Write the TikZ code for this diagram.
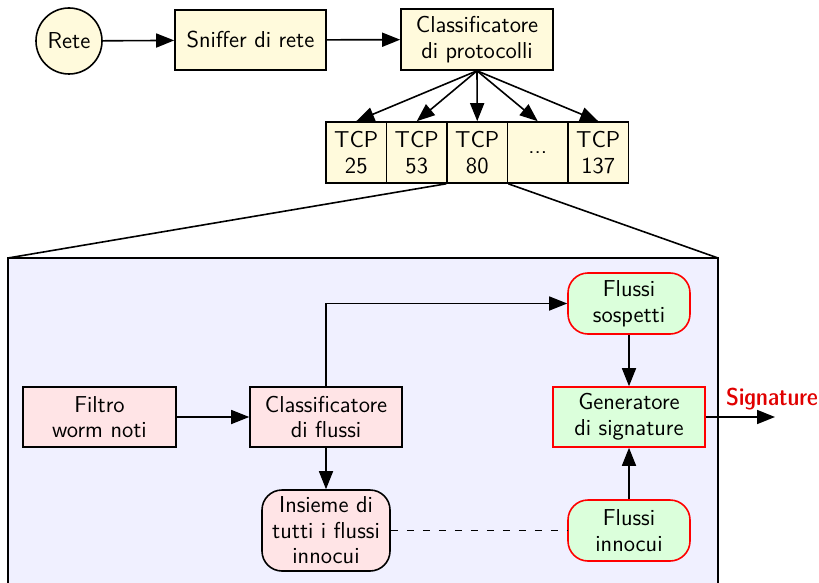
\documentclass[tikz,border=0pt]{standalone}
\usetikzlibrary{arrows.meta}
\definecolor{ylw}{HTML}{FFFADC}
\definecolor{pnk}{HTML}{FFE4E6}
\definecolor{grn}{HTML}{DBFFDB}
\definecolor{lav}{HTML}{F0F0FF}
\definecolor{sigred}{HTML}{E00000}
\begin{document}
\begin{tikzpicture}[x=0.5pt,y=-0.5pt,
  font=\sffamily\fontsize{11.5}{12.8}\selectfont,
  >={Triangle[length=9pt,width=7pt]},
  every path/.style={line width=0.8pt},
  base/.style={draw, align=center, inner sep=0pt, line width=0.8pt},
  ybox/.style={base, fill=ylw, minimum width=75.5pt, minimum height=30pt},
  tcpbox/.style={base, fill=ylw, minimum width=30.25pt, minimum height=30.5pt},
  pbox/.style={base, fill=pnk, minimum width=76pt, minimum height=30pt},
  gbox/.style={base, fill=grn, draw=red, minimum width=76pt, minimum height=30pt},
  groundbox/.style={base, fill=grn, draw=red, rounded corners=10pt, minimum width=61pt, minimum height=30.5pt},
  link/.style={->, line width=0.8pt}
]
\useasboundingbox (0,0) rectangle (819,583);
% big box
\path[draw, fill=lav] (8,258) rectangle (718,620);
\node[base, circle, fill=ylw, minimum size=33pt] (rete) at (69,41) {Rete};
\node[ybox] (sniffer) at (250.5,40) {Sniffer di rete};
\node[ybox, minimum width=76pt, minimum height=30.5pt] (cproto) at (477,39.5) {Classificatore\\di protocolli};
\node[tcpbox] (t25) at (356.25,152.5) {TCP\\25};
\node[tcpbox] (t53) at (416.75,152.5) {TCP\\53};
\node[tcpbox] (t80) at (477.25,152.5) {TCP\\80};
\node[tcpbox] (tdots) at (537.75,152.5) {...};
\node[tcpbox] (t137) at (598.25,152.5) {TCP\\137};
\draw[link] (rete) -- (sniffer);
\draw[link] (sniffer) -- (cproto);
\foreach \t in {t25,t53,t80,tdots,t137} \draw[link] (cproto.south) -- (\t.north);
\draw (t80.south west) -- (8,258);
\draw (t80.south east) -- (718,258);
% inner
\node[pbox, minimum width=76.5pt] (filtro) at (99.5,417) {Filtro\\worm noti};
\node[pbox] (cflussi) at (326,417) {Classificatore\\di flussi};
\node[base, fill=pnk, rounded corners=10pt, minimum width=64pt, minimum height=40.5pt] (insieme) at (326,530.5) {Insieme di\\tutti i flussi\\innocui};
\node[groundbox] (sospetti) at (629,303.5) {Flussi\\sospetti};
\node[gbox] (gen) at (629,417) {Generatore\\di signature};
\node[groundbox] (innocui) at (629,530.5) {Flussi\\innocui};
\coordinate (sigend) at (775,417);
\draw[link] (filtro) -- (cflussi);
\draw[link] (cflussi.north) |- (sospetti.west);
\draw[link] (cflussi) -- (insieme);
\draw[dash pattern=on 3.5pt off 4.5pt] (insieme) -- (innocui);
\draw[link] (sospetti) -- (gen);
\draw[link] (innocui) -- (gen);
\draw[link] (gen) -- (sigend);
\node[text=sigred, font=\sffamily\fontseries{sbc}\fontsize{12.2}{13}\selectfont] (sig) at (772,399) {Signature};
\end{tikzpicture}
\end{document}
